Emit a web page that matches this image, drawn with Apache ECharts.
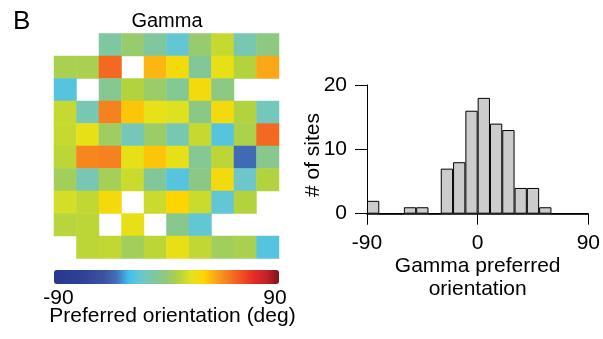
<!DOCTYPE html>
<html>
<head>
<meta charset="utf-8">
<script src="https://cdn.jsdelivr.net/npm/echarts@6/dist/echarts.min.js"></script>
<style>
  html, body { margin: 0; padding: 0; background: #ffffff; }
  #chart { width: 603px; height: 339px; }
</style>
</head>
<body>
<div id="chart"></div>
<script>
// Preferred orientation (deg) of each recording site, 10 x 10 array, row 0 on top.
// null marks a site with no estimate.
const siteRows = [
  [null, null, -10,   2, -10, -22,   2,  14, -14,  -2],
  [   7,    7,  54, null,  36,  26,  -8,  22,  10,  39],
  [ -25, null,  -6,  10,   3,  -7,  26,  -2, null, null],
  [  14,  -14,  48,  33,  21,  19,  -3,  26,  10, -16],
  [  14,   22,   4, -15,   3, -14,  14, -25,   8,  54],
  [  12,   47,  48,  22,  33,  22,  -7,  12, -42,  -5],
  [   5,  -14,   6,  15,  -9, -25,  -3,  26, -19,  10],
  [  17,   13,  26, null,  15,  30,  15, -22,  10, null],
  [  11,   12, null,  22, null,  -5, -22, null, null, null],
  [null,   12,  13,   5,  12,  22,  13,   5,   7, -25]
];

// Colour scale from -90 to 90 deg in 10 deg steps
const orientationColors = [
  '#283891', '#2b3c93', '#2e4096', '#34489b', '#3b53a2', '#4170b8',
  '#43c0ee', '#6bc7cf', '#7fc79e', '#91c97a', '#b3d33e', '#e3e31c',
  '#fed401', '#faa21b', '#f47a20', '#f05123', '#e52b28', '#c1232a', '#7f1416'
];

// Histogram of preferred orientation, 10 deg bins from -90 to 90
const binLabels = ['-85', '-75', '-65', '-55', '-45', '-35', '-25', '-15', '-5',
                   '5', '15', '25', '35', '45', '55', '65', '75', '85'];
const binCounts = [2, 0, 0, 1, 1, 0, 7, 8, 16, 18, 14, 13, 4, 4, 1, 0, 0, 0];

const orientTicks = [-90, 0, 90];
const countTicks = [0, 10, 20];

const colIdx = ['0', '1', '2', '3', '4', '5', '6', '7', '8', '9'];
const rowIdx = ['0', '1', '2', '3', '4', '5', '6', '7', '8', '9'];

const heatData = [];
siteRows.forEach(function (row, r) {
  row.forEach(function (v, c) {
    if (v !== null) heatData.push([c, r, v]);
  });
});

const FONT = "'Liberation Sans', Arial, Helvetica, sans-serif";

const chart = echarts.init(document.getElementById('chart'), null, { renderer: 'canvas' });

chart.setOption({
  backgroundColor: '#ffffff',
  animation: false,
  textStyle: { fontFamily: FONT, color: '#000000' },
  grid: [
    { left: 54, top: 33.5, width: 225, height: 225 },
    { left: 367, top: 85, width: 223.5, height: 128.7 }
  ],
  xAxis: [
    { type: 'category', data: colIdx, gridIndex: 0, show: false },
    {
      type: 'value', gridIndex: 1, min: orientTicks[0], max: orientTicks[2], interval: 90,
      axisLine: { show: true, onZero: false, lineStyle: { color: '#000', width: 1.6 } },
      axisTick: { show: true, length: 11, lineStyle: { color: '#000', width: 1 } },
      axisLabel: { fontSize: 21, color: '#000', margin: 19, fontFamily: FONT },
      splitLine: { show: false },
      name: 'Gamma preferred\norientation',
      nameLocation: 'middle',
      nameGap: 40,
      nameTextStyle: { fontSize: 21, color: '#000', lineHeight: 23, fontFamily: FONT }
    },
    { type: 'category', data: binLabels, gridIndex: 1, show: false, boundaryGap: true }
  ],
  yAxis: [
    { type: 'category', data: rowIdx, gridIndex: 0, show: false, inverse: true },
    {
      type: 'value', gridIndex: 1, min: countTicks[0], max: countTicks[2], interval: 10,
      axisLine: { show: true, onZero: false, lineStyle: { color: '#000', width: 1 } },
      axisTick: { show: true, length: 12, lineStyle: { color: '#000', width: 1 } },
      axisLabel: { fontSize: 21, color: '#000', margin: 20, fontFamily: FONT },
      splitLine: { show: false }
    }
  ],
  visualMap: {
    type: 'continuous',
    seriesIndex: 0,
    min: -90,
    max: 90,
    orient: 'horizontal',
    left: 54,
    top: 270,
    padding: 0,
    itemWidth: 14,
    itemHeight: 225,
    calculable: false,
    showLabel: false,
    text: null,
    hoverLink: false,
    inRange: { color: orientationColors }
  },
  series: [
    {
      type: 'heatmap',
      xAxisIndex: 0,
      yAxisIndex: 0,
      data: heatData,
      itemStyle: { borderWidth: 0 },
      emphasis: { disabled: true }
    },
    {
      type: 'bar',
      xAxisIndex: 2,
      yAxisIndex: 1,
      data: binCounts,
      barWidth: '100%',
      itemStyle: { color: '#cccccc', borderColor: '#000000', borderWidth: 1 },
      emphasis: { disabled: true }
    }
  ],
  graphic: [
    { type: 'text', left: 13, top: 9, style: { text: 'B', font: '26px ' + FONT, fill: '#000' } },
    { type: 'text', x: 167, y: 21, style: { text: 'Gamma', font: '20px ' + FONT, fill: '#000', textAlign: 'center', textVerticalAlign: 'middle' } },
    { type: 'text', x: 313.5, y: 155, rotation: Math.PI / 2, style: { text: '# of sites', font: '21px ' + FONT, fill: '#000', textAlign: 'center', textVerticalAlign: 'middle' } },
    { type: 'text', x: 58.5, y: 298.5, style: { text: '-90', font: '21px ' + FONT, fill: '#000', textAlign: 'center', textVerticalAlign: 'middle' } },
    { type: 'text', x: 275, y: 298.5, style: { text: '90', font: '21px ' + FONT, fill: '#000', textAlign: 'center', textVerticalAlign: 'middle' } },
    { type: 'text', x: 172.5, y: 316.5, style: { text: 'Preferred orientation (deg)', font: '21px ' + FONT, fill: '#000', textAlign: 'center', textVerticalAlign: 'middle' } }
  ]
});
</script>
</body>
</html>
